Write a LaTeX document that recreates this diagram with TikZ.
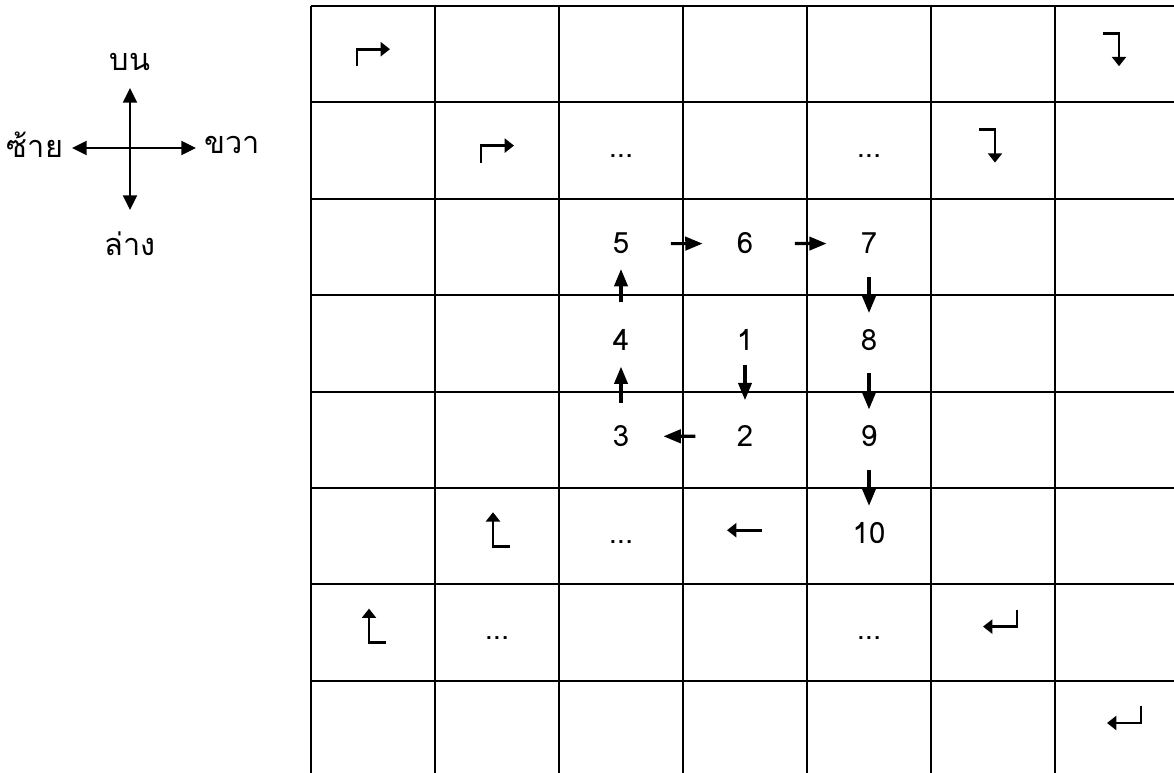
\documentclass[tikz,border=0pt]{standalone}
\usepackage{fontspec}
\setmainfont[Script=Thai]{Loma}
\usetikzlibrary{arrows.meta}

\begin{document}
\begin{tikzpicture}[x=0.75pt,y=-0.75pt,
  gridline/.style={line width=1.5pt},
  num/.style={font=\fontsize{22}{26}\selectfont, inner sep=0pt, anchor=base},
  thai/.style={font=\fontsize{23}{27}\selectfont, inner sep=0pt},
  axis/.style={line width=1.5pt, -{Triangle[length=11pt,width=10.5pt]}},
  flow/.style={line width=2.4pt, -{Triangle[length=13pt,width=10pt]}},
  across/.style={flow, shorten <=31pt, shorten >=25.5pt},
  updown/.style={flow, shorten <=17pt, shorten >=12pt},
  glyph/.style={line width=2.2pt, -{Triangle[length=7pt,width=10.5pt]}}]
\useasboundingbox (0,0) rectangle (1174,773);

% compass
\coordinate (o) at (130,148);
\coordinate (tipu) at (130,88);
\coordinate (tipd) at (130,210);
\coordinate (tipl) at (72,148);
\coordinate (tipr) at (196,148);
\draw[axis] (o) -- (tipu);
\draw[axis] (o) -- (tipd);
\draw[axis] (o) -- (tipl);
\draw[axis] (o) -- (tipr);
\node[thai] (lup) at (130,62) {บน};
\node[thai] (ldown) at (130,244) {ล่าง};
\node[thai] (lleft) at (35,145) {ซ้าย};
\node[thai] (lright) at (232,145) {ขวา};

% grid 7 x 8
\foreach \i in {0,...,6}
  \draw[gridline] ({311+124*\i},6) -- ({311+124*\i},773);
\foreach \j in {0,...,7}
  \draw[gridline] (311,{6+96.4*\j}) -- (1174,{6+96.4*\j});
\foreach \r in {1,...,8}
  \foreach \c in {1,...,7}
    \coordinate (c\r\c) at ({311+124*(\c-0.5)},{6+96.4*(\r-0.5)});

% numbered path
\node[num] (n5) at ([shift={(0,7)}]c33) {5};
\node[num] (n6) at ([shift={(0,7)}]c34) {6};
\node[num] (n7) at ([shift={(0,7)}]c35) {7};
\node[num] (n4) at ([shift={(0,7)}]c43) {4};
\node[num] (n1) at ([shift={(0,7)}]c44) {1};
\node[num] (n8) at ([shift={(0,7)}]c45) {8};
\node[num] (n3) at ([shift={(0,7)}]c53) {3};
\node[num] (n2) at ([shift={(0,7)}]c54) {2};
\node[num] (n9) at ([shift={(0,7)}]c55) {9};
\node[num] (n10) at ([shift={(0,7)}]c65) {10};
\draw[flow, shorten <=11pt, shorten >=19pt] (n1) -- (n2);
\draw[across] (n2) -- (n3);
\draw[updown] (n3) -- (n4);
\draw[flow, shorten <=20pt, shorten >=11pt] (n4) -- (n5);
\draw[across] (n5) -- (n6);
\draw[across] (n6) -- (n7);
\draw[updown] (n7) -- (n8);
\draw[updown] (n8) -- (n9);
\draw[updown] (n9) -- (n10);

% dots
\node[num] (d23) at ([shift={(0,7)}]c23) {...};
\node[num] (d25) at ([shift={(0,7)}]c25) {...};
\node[num] (d63) at ([shift={(0,7)}]c63) {...};
\node[num] (d72) at ([shift={(0,7)}]c72) {...};
\node[num] (d75) at ([shift={(0,7)}]c75) {...};

% turn marks
\foreach \cc in {c11,c22}
  \draw[glyph] ([shift={(-16,12)}]\cc) |- ([shift={(17,-5)}]\cc);
\foreach \cc in {c17,c26}
  \draw[glyph] ([shift={(-14,-21)}]\cc) -| ([shift={(2,12)}]\cc);
\foreach \cc in {c62,c71}
  \draw[glyph] ([shift={(13,10)}]\cc) -| ([shift={(-4,-24)}]\cc);
\foreach \cc in {c76,c87}
  \draw[glyph] ([shift={(24,-23)}]\cc) |- ([shift={(-10,-6)}]\cc);
\draw[glyph] ([shift={(17,-6)}]c64) -- ([shift={(-18,-6)}]c64);
\end{tikzpicture}
\end{document}
